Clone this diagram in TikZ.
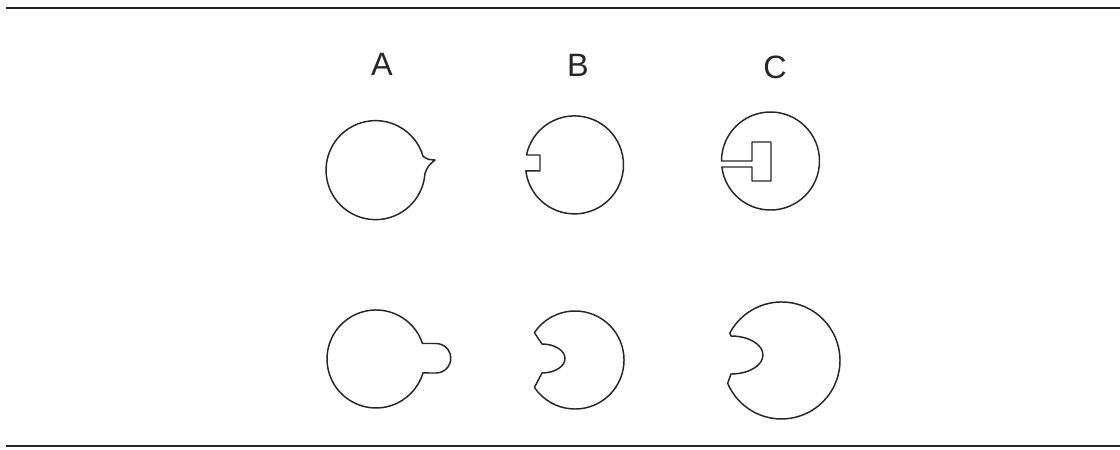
\documentclass[tikz,border=0pt]{standalone}
\usepackage{fontspec}
\setmainfont{Liberation Sans}
\begin{document}
\begin{tikzpicture}[x=0.025cm,y=-0.025cm,
  shape line/.style={draw=black!85,line width=1.05pt,line join=round},
  rule line/.style={draw=black!85,line width=1.9pt},
  lab/.style={font=\fontsize{23}{27}\selectfont,text=black!85,inner sep=0pt,anchor=center}]
\useasboundingbox (0,0) rectangle (1120,449);
% rules
\draw[rule line] (6,8) -- (1120,8);
\draw[rule line] (6,446) -- (1120,446);
% labels
\node[lab] (labA) at (382,64) {A};
\node[lab] (labB) at (578,65) {B};
\node[lab] (labC) at (775,67) {C};
% top A: circle with small spike
\draw[shape line] (423.1,156.4)
  arc[start angle=-16.1,end angle=-356,radius=49.5]
  .. controls (428,166) .. (435,160)
  .. controls (428,159.5) .. cycle;
% top B: circle with rectangular notch
\draw[shape line] (526.5,155)
  arc[start angle=-168.35,end angle=173.04,radius=49]
  -- (540,171) -- (540,155) -- cycle;
% top C: circle with slot and rectangle
\draw[shape line] (721.5,161)
  arc[start angle=-180,end angle=172.96,radius=49]
  -- (752,167) -- (752,181) -- (771,181) -- (771,142) -- (752,142) -- (752,161) -- cycle;
% bottom A: circle with lobe
\draw[shape line] (422.5,343.5)
  arc[start angle=-18.4,end angle=-343.4,radius=49]
  -- (436,373) arc[start angle=90,end angle=-90,radius=14.75]
  -- cycle;
% bottom B: circle with indentation
\draw[shape line] (534.4,332.6)
  arc[start angle=-146,end angle=146,radius=49]
  -- (542,373) arc[start angle=90,end angle=-90,x radius=23,y radius=14.5]
  -- cycle;
% bottom C: larger circle with indentation
\draw[shape line] (729.85,333)
  arc[start angle=-152,end angle=157,radius=58.5]
  -- (731,374) arc[start angle=90,end angle=-90,x radius=32,y radius=19]
  -- cycle;
\end{tikzpicture}
\end{document}
